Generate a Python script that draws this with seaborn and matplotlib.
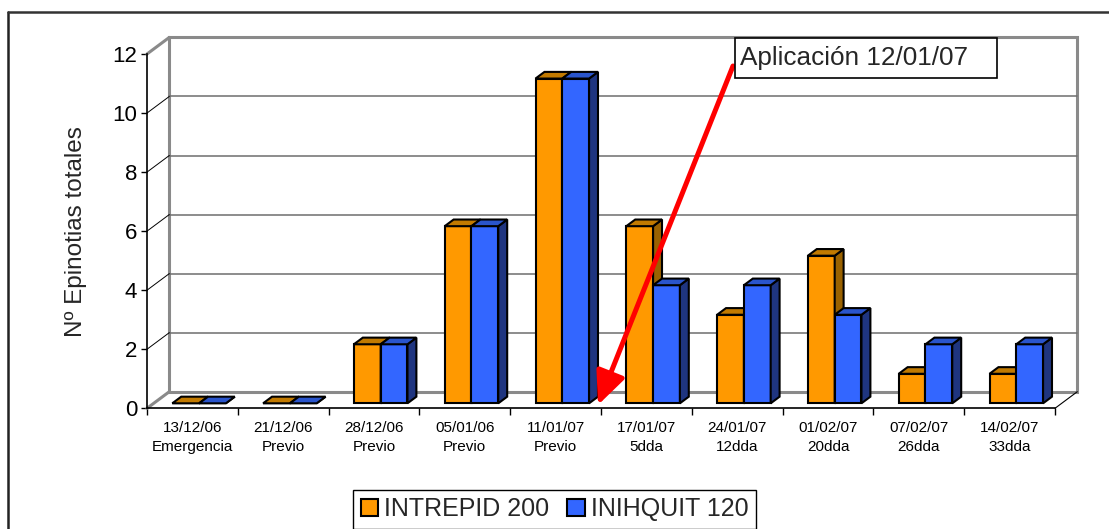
import matplotlib
matplotlib.use("Agg")
import numpy as np
import pandas as pd
import matplotlib.pyplot as plt
import seaborn as sns
from matplotlib.patches import Polygon, Rectangle, Patch
from matplotlib.lines import Line2D

fechas = ["13/12/06", "21/12/06", "28/12/06", "05/01/06", "11/01/07",
          "17/01/07", "24/01/07", "01/02/07", "07/02/07", "14/02/07"]
fases = ["Emergencia", "Previo", "Previo", "Previo", "Previo",
         "5dda", "12dda", "20dda", "26dda", "33dda"]
intrepid = [0, 0, 2, 6, 11, 6, 3, 5, 1, 1]
inihquit = [0, 0, 2, 6, 11, 4, 4, 3, 2, 2]
series = ["INTREPID 200", "INIHQUIT 120"]

etiquetas = [f"{a}\n{b}" for a, b in zip(fechas, fases)]
df = pd.DataFrame({
    "Fecha": etiquetas * 2,
    "Serie": [series[0]] * len(etiquetas) + [series[1]] * len(etiquetas),
    "Valor": intrepid + inihquit,
})

frente = {"INTREPID 200": "#FF9900", "INIHQUIT 120": "#3366FF"}
lado = {"INTREPID 200": "#9A6200", "INIHQUIT 120": "#1F3580"}
techo = {"INTREPID 200": "#C27A00", "INIHQUIT 120": "#2A55CC"}

sns.set_style("white")
plt.rcParams["font.family"] = ["Liberation Sans", "DejaVu Sans"]

W, H = 1109, 529
fig = plt.figure(figsize=(W / 100, H / 100), dpi=100)
fx = lambda px: px / W
fy = lambda py: 1 - py / H

# front plane of the axes
ax = fig.add_axes([fx(147), fy(408.3), 908 / W, 354.3 / H])

sns.barplot(data=df, x="Fecha", y="Valor", hue="Serie", palette=frente,
            width=0.59, gap=0, saturation=1, edgecolor="black", linewidth=1.5,
            legend=False, ax=ax, zorder=2)
ax.set_xlim(-0.5, 9.5)
ax.set_ylim(0, 12)

# depth of the back wall in data units (22.3 px right, 16.6 px up)
WX = 22.3 / (908 / 10)
WY = 16.6 / (354.3 / 12)
p = lambda x, y, d: (x + d * WX, y + d * WY)
F0, F1 = 0.3, 0.7

# back wall, side wall and floor
pared = Polygon([p(-0.5, 0, 1), p(9.5, 0, 1), p(9.5, 12, 1), p(-0.5, 12, 1)],
                closed=True, facecolor="white", edgecolor="#8a8a8a", lw=2.2,
                zorder=0.5, clip_on=False)
ax.add_patch(pared)
for yv in range(2, 12, 2):
    a, b = p(-0.5, yv, 1), p(9.5, yv, 1)
    ax.plot([a[0], b[0]], [a[1], b[1]], color="#6e6e6e", lw=1.1, zorder=0.6, clip_on=False)
    c = p(-0.5, yv, 0)
    ax.plot([c[0], a[0]], [c[1], a[1]], color="black", lw=0.7, zorder=0.6, clip_on=False)
for yv in (0, 12):
    a, b = p(-0.5, yv, 0), p(-0.5, yv, 1)
    ax.plot([a[0], b[0]], [a[1], b[1]], color="#8a8a8a", lw=2.2, zorder=0.6, clip_on=False)
a, b = p(9.5, 0, 0), p(9.5, 0, 1)
ax.plot([a[0], b[0]], [a[1], b[1]], color="black", lw=0.8, zorder=0.6, clip_on=False)

# 3D faces of the columns
for k, (serie, cont) in enumerate(zip(series, ax.containers)):
    z = 2 + k
    for bar in cont:
        x, w, h = bar.get_x(), bar.get_width(), bar.get_height()
        bar.set_x(x + F0 * WX)
        bar.set_y(F0 * WY)
        bar.set_zorder(z)
        bar.set_clip_on(False)
        cara = Polygon([p(x + w, 0, F0), p(x + w, 0, F1), p(x + w, h, F1), p(x + w, h, F0)],
                       closed=True, facecolor=lado[serie], edgecolor="black", lw=1.5,
                       zorder=z, clip_on=False)
        tapa = Polygon([p(x, h, F0), p(x + w, h, F0), p(x + w, h, F1), p(x, h, F1)],
                       closed=True, facecolor=techo[serie], edgecolor="black", lw=1.5,
                       zorder=z, clip_on=False)
        ax.add_patch(cara)
        ax.add_patch(tapa)

# axes styling
for s in ("top", "right"):
    ax.spines[s].set_visible(False)
for s in ("left", "bottom"):
    ax.spines[s].set_color("black")
    ax.spines[s].set_linewidth(1.2)
    ax.spines[s].set_zorder(1)
ax.set_yticks(range(0, 13, 2))
ax.tick_params(axis="y", direction="out", length=4, width=1, pad=3,
               labelsize=16, colors="black", left=True)
ax.set_xticks(range(len(etiquetas)))
ax.set_xticklabels(etiquetas)
ax.set_xticks(np.arange(-0.5, 10, 1), minor=True)
ax.tick_params(axis="x", which="major", length=0, pad=9, colors="black", labelsize=11)
ax.tick_params(axis="x", which="minor", direction="out", length=5, width=1,
               colors="black", bottom=True)
for t in ax.get_xticklabels():
    t.set_linespacing(1.45)
ax.set_xlabel("")
ax.set_ylabel("Nº Epinotias totales", fontsize=17.5, labelpad=18)
ax.grid(False)
ax.patch.set_alpha(0)

# annotation
fig.add_artist(Rectangle((fx(734.5), fy(77.5)), (997 - 734.5) / W, (77.5 - 38) / H,
                         transform=fig.transFigure, facecolor="white",
                         edgecolor="black", lw=1.2, zorder=6))
fig.text(fx(740), fy(57.5), "Aplicación 12/01/07", fontsize=18.8, ha="left",
         va="center", zorder=7)
ax.annotate("", xy=(fx(598), fy(405)), xycoords="figure fraction",
            xytext=(fx(733), fy(66)), textcoords="figure fraction",
            arrowprops=dict(arrowstyle="-|>,head_length=2.0,head_width=0.9",
                            mutation_scale=10, lw=3.6, color="#FF0000",
                            shrinkA=0, shrinkB=0),
            zorder=8)

# legend
handles = [Patch(facecolor=frente[s], edgecolor="black", lw=1.5) for s in series]
leg = fig.legend(handles, series, loc="center", bbox_to_anchor=(fx(554.5), fy(509)),
                 ncol=2, fontsize=18, frameon=True, fancybox=False, framealpha=1,
                 edgecolor="black", handlelength=0.7, handleheight=0.7,
                 handletextpad=0.25, columnspacing=0.7, borderpad=0.3,
                 borderaxespad=0)
leg.get_frame().set_linewidth(1.0)

# outer chart border
fig.add_artist(Line2D([fx(8), fx(8)], [0, fy(12)], color="#222222", lw=1.8,
                      transform=fig.transFigure))
fig.add_artist(Line2D([fx(8), 1], [fy(12), fy(12)], color="#333333", lw=1.8,
                      transform=fig.transFigure))

fig.savefig("out.png", dpi=100)
